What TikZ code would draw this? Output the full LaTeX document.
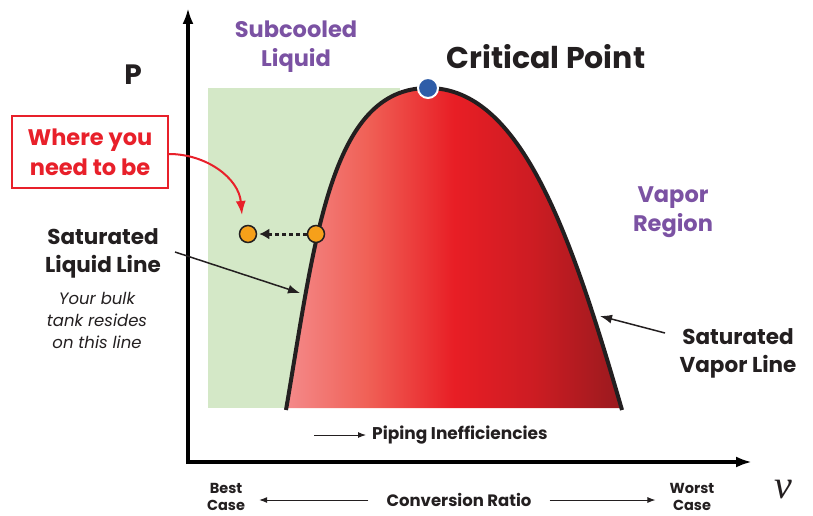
\documentclass[tikz,border=0pt]{standalone}
\usepackage{fontspec}
\setmainfont{Poppins}
\newfontfamily\vfont{Liberation Serif}
\usetikzlibrary{arrows.meta}

\definecolor{ink}{HTML}{231F20}
\definecolor{regiongreen}{HTML}{D4E8C7}
\definecolor{regionpurple}{HTML}{7B52A3}
\definecolor{callred}{HTML}{E8202A}
\definecolor{critblue}{HTML}{2F5DA8}
\definecolor{stateorange}{HTML}{F6A01A}

\pgfdeclarehorizontalshading{dome}{100bp}{
  rgb(0bp)=(0.957,0.541,0.541);
  rgb(25bp)=(0.957,0.541,0.541);
  rgb(37bp)=(0.940,0.380,0.340);
  rgb(50bp)=(0.910,0.118,0.145);
  rgb(62bp)=(0.800,0.110,0.135);
  rgb(75bp)=(0.600,0.102,0.118);
  rgb(100bp)=(0.600,0.102,0.118)}

\begin{document}
\begin{tikzpicture}[x=1pt,y=-1pt,
    every node/.style={text=ink,align=center,inner sep=0pt},
    heading/.style={font=\fontsize{21.5}{28}\selectfont\bfseries},
    region/.style={font=\fontsize{22.5}{29}\selectfont\bfseries,text=regionpurple},
    note/.style={font=\fontsize{16.5}{22}\selectfont\itshape},
    small/.style={font=\fontsize{14.5}{17}\selectfont\bfseries},
    statedot/.style={circle,draw=ink,line width=1.5pt,fill=stateorange,minimum size=17pt}]
  \useasboundingbox (0,0) rectangle (813,516);

  % subcooled liquid region
  \fill[regiongreen] (208,88) rectangle (400,408);

  % vapor dome
  \shade[shading=dome]
    (286,408) .. controls (315,240) and (330,88) .. (428,88)
    .. controls (520,88) and (570,230) .. (622,408) -- cycle;
  \draw[ink,line width=4pt]
    (286,410) .. controls (315,240) and (330,88) .. (428,88)
    .. controls (520,88) and (570,230) .. (622,410);

  % axes
  \draw[line width=4pt,-{Latex[length=16pt,width=11pt]}] (188,464) -- (188,8);
  \draw[line width=4pt,-{Latex[length=16pt,width=11pt]}] (186,462) -- (752,462);

  \node[circle,fill=critblue,draw=white,line width=2pt,minimum size=20pt] (crit) at (428,88) {};
  \node[font=\fontsize{30}{30}\selectfont\bfseries] (critlabel) at (546,57) {Critical Point};
  \node[font=\fontsize{28}{30}\selectfont\bfseries] (plabel) at (133,75) {P};
  \node[region] (subcooled) at (296,47) {Subcooled\\Liquid};
  \node[region] (vapreg) at (673,212) {Vapor\\Region};

  % where you need to be
  \node[draw=callred,line width=2pt,text=callred,minimum width=156pt,minimum height=71pt,
    font=\fontsize{22.5}{30}\selectfont\bfseries] (where) at (90,152) {Where you\\need to be};
  \node[statedot] (target) at (248,234) {};
  \node[statedot] (onliq) at (316,234) {};
  \coordinate (redtip) at (242,215);
  \draw[callred,line width=2pt,-{Latex[length=14pt,width=10pt]}]
    ([yshift=-2pt]where.east) to[out=0,in=95] (redtip);
  \draw[ink,line width=3pt,dash pattern=on 4pt off 3pt,-{Latex[length=10pt,width=11pt]},shorten >=2pt]
    (onliq) -- (target);

  % saturated lines
  \node[heading] (satliq) at (103,253) {Saturated\\Liquid Line};
  \node[note] (bulk) at (97,320) {Your bulk\\tank resides\\on this line};
  \coordinate (liqfrom) at (175,252);
  \coordinate (liqto) at (300,293);
  \draw[ink,line width=1.5pt,-{Latex[length=12pt,width=9pt]}] (liqfrom) -- (liqto);
  \node[heading] (satvap) at (738,353) {Saturated\\Vapor Line};
  \coordinate (vapfrom) at (665,333);
  \coordinate (vapto) at (600,316);
  \draw[ink,line width=1.5pt,-{Latex[length=12pt,width=9pt]}] (vapfrom) -- (vapto);

  % piping inefficiencies
  \node[anchor=west,font=\fontsize{17}{18}\selectfont\bfseries] (piping) at (372,435) {Piping Inefficiencies};
  \coordinate (pipefrom) at (314,435);
  \draw[ink,line width=1pt,-{Latex[length=8pt,width=6pt]}] (pipefrom) -- ([xshift=-6pt]piping.west);

  % conversion ratio
  \node[small] (best) at (226,497) {Best\\Case};
  \node[font=\fontsize{16.5}{18}\selectfont\bfseries] (conv) at (459,500) {Conversion Ratio};
  \node[small] (worst) at (692,497) {Worst\\Case};
  \draw[ink,line width=1pt,-{Latex[length=8pt,width=6pt]}] ([xshift=-18pt]conv.west) -- ([xshift=14pt]best.east |- conv.west);
  \draw[ink,line width=1pt,-{Latex[length=8pt,width=6pt]}] ([xshift=18pt]conv.east) -- ([xshift=-14pt]worst.west |- conv.east);
  \node[font=\fontsize{40}{40}\selectfont\vfont\itshape] (vlabel) at (783,490) {v};
\end{tikzpicture}
\end{document}
